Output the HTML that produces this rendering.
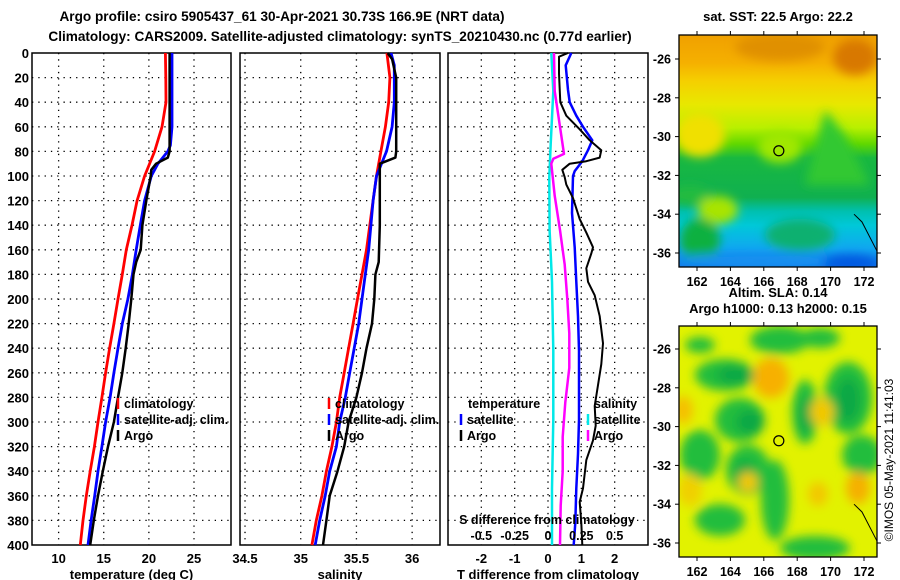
<!DOCTYPE html>
<html><head><meta charset="utf-8"><style>
html,body{margin:0;padding:0;background:#fff;}
svg{display:block;font-family:"Liberation Sans",Arial,sans-serif;font-weight:bold;}
</style></head><body>
<svg id="chart" width="900" height="580" viewBox="0 0 900 580" xmlns="http://www.w3.org/2000/svg">
<defs>
<filter id="blur6" x="-20%" y="-20%" width="140%" height="140%"><feGaussianBlur stdDeviation="5"/></filter>
<clipPath id="clipTop"><rect x="679" y="35" width="198" height="232"/></clipPath>
<clipPath id="clipBot"><rect x="679" y="326" width="198" height="231"/></clipPath>
<linearGradient id="sstGrad" x1="0" y1="0" x2="0" y2="1">
<stop offset="0" stop-color="#f0a000"/><stop offset="0.12" stop-color="#f5b000"/>
<stop offset="0.2" stop-color="#f5d000"/><stop offset="0.3" stop-color="#e8e800"/>
<stop offset="0.4" stop-color="#b8f000"/><stop offset="0.47" stop-color="#60d800"/>
<stop offset="0.53" stop-color="#18b840"/><stop offset="0.7" stop-color="#10b050"/>
<stop offset="0.76" stop-color="#00c0b0"/><stop offset="0.82" stop-color="#00c8d8"/>
<stop offset="0.92" stop-color="#10a8f0"/><stop offset="1" stop-color="#1070e8"/>
</linearGradient>
</defs>
<text x="282" y="21" font-size="13.6" text-anchor="middle">Argo profile: csiro 5905437_61 30-Apr-2021 30.73S 166.9E (NRT data)</text>
<text x="340" y="41" font-size="13.6" text-anchor="middle">Climatology: CARS2009. Satellite-adjusted climatology: synTS_20210430.nc (0.77d earlier)</text>
<g id="panels"></g>
<g id="maps"></g>
<text transform="translate(893,460) rotate(-90)" font-size="12" font-weight="normal" text-anchor="middle">©IMOS 05-May-2021 11:41:03</text>
</svg>
<script>
// ---- data ----
const tDepth = [0,20,40,60,80,100,120,140,160,180,200,220,240,260,280,300,320,340,360,380,400];
const tClim = [21.83,21.88,21.9,21.45,20.64,19.53,18.7,18.13,17.5,17.06,16.58,16.13,15.65,15.2,14.8,14.36,13.96,13.5,13.07,12.7,12.4];
const tSatDepth = [0,60,75,80,90,100,120,140,160,180,200,220,240,260,280,300,320,340,360,380,400];
const tSat = [22.56,22.56,22.38,22.1,21.0,20.27,19.53,19.05,18.6,18.17,17.68,17.06,16.58,16.13,15.7,15.2,14.8,14.36,14.0,13.6,13.25];
const tArgoDepth = [0,80,85,90,95,100,120,140,160,170,180,200,220,240,260,280,300,320,340,360,380,400];
const tArgo = [22.3,22.3,22.1,20.8,20.27,20.2,19.72,19.28,19.09,18.6,18.3,18.05,17.76,17.43,17.06,16.58,16.13,15.47,14.9,14.36,13.9,13.5];
const sDepth = [0,20,40,60,80,100,120,140,160,180,200,220,240,260,280,300,320,340,360,380,400];
const sClim = [35.773,35.8,35.79,35.76,35.72,35.68,35.65,35.62,35.59,35.55,35.51,35.47,35.43,35.39,35.35,35.32,35.28,35.23,35.19,35.14,35.1];
const sSatDepth = [0,10,40,60,80,100,120,140,160,180,200,220,240,260,280,300,320,340,360,380,400];
const sSat = [35.81,35.84,35.84,35.82,35.77,35.68,35.65,35.63,35.61,35.58,35.55,35.52,35.48,35.44,35.4,35.35,35.32,35.26,35.22,35.17,35.13];
const sArgoDepth = [0,5,20,80,85,90,100,140,170,180,200,220,240,260,280,300,320,340,360,380,400];
const sArgo = [35.78,35.82,35.857,35.857,35.85,35.71,35.71,35.71,35.7,35.67,35.66,35.64,35.59,35.55,35.5,35.43,35.39,35.33,35.26,35.23,35.2];
const dTSatDepth = [0,10,30,40,51,60,71,79,88,96,100,130,158,186,214,242,270,298,326,354,382,400];
const dTSat = [0.7,0.53,0.6,0.65,0.85,1.05,1.33,1.2,1.03,0.8,0.75,0.72,0.8,0.85,0.9,0.93,0.93,0.93,0.9,0.85,0.82,0.77];
const dTArgoDepth = [0,3,17,40,51,62,71,79,85,88,90,95,101,107,118,135,146,158,163,175,186,197,214,236,253,270,287,303,315,331,354,365,382,400];
const dTArgo = [0.6,0.33,0.33,0.37,0.55,0.95,1.25,1.6,1.55,1.15,0.65,0.43,0.5,0.55,0.75,0.95,1.15,1.35,1.3,1.15,1.2,1.4,1.55,1.65,1.6,1.5,1.4,1.43,1.35,1.15,1.05,0.95,1.0,1.03];
const dSArgoDepth = [0,31,60,82,86,90,116,144,172,200,228,256,284,312,340,368,400];
const dSArgo = [0.045,0.05,0.09,0.12,0.04,0.025,0.05,0.09,0.125,0.145,0.16,0.16,0.13,0.11,0.11,0.095,0.09];
const dSSatDepth = [0,31,74,101,144,186,242,298,354,400];
const dSSat = [0.025,0.04,0.02,0.01,0.012,0.03,0.04,0.04,0.03,0.03];
const depthTicks = [0,20,40,60,80,100,120,140,160,180,200,220,240,260,280,300,320,340,360,380,400];
const tTicks = [10,15,20,25];
const sTicks = [34.5,35,35.5,36];
const dTTicks = [-2,-1,0,1,2];
const dSTicks = [-0.5,-0.25,0,0.25,0.5];
const lonTicks = [162,164,166,168,170,172];
const latTicks = [-26,-28,-30,-32,-34,-36];

const NS='http://www.w3.org/2000/svg';
const svg=document.getElementById('chart');
const panels=document.getElementById('panels');
const maps=document.getElementById('maps');
function el(tag,attrs,parent){const e=document.createElementNS(NS,tag);for(const k in attrs)e.setAttribute(k,attrs[k]);(parent||svg).appendChild(e);return e;}
const TOP=53,BOT=545;
const yD=d=>TOP+(d/400)*(BOT-TOP);
function mkScale(x0,x1,v0,v1){return v=>x0+(v-v0)/(v1-v0)*(x1-x0);}
const xT=mkScale(32,231,7.05,29.1);
const xS=mkScale(240,440,34.455,36.25);
const xDT=mkScale(448,648,-3,3);
const xDS=v=>xDT(v*4);

function panel(name,x0,x1,xs,ticks,xlabel,showY){
  const g=el('g',{},panels);
  
  
  depthTicks.forEach(d=>{
    if(d>0&&d<400){const l=el('line',{x1:x0,x2:x1,y1:yD(d),y2:yD(d),stroke:'#000','stroke-width':1.3,'stroke-dasharray':'1.3,5'},g);
      }
    if(showY){const t=el('text',{x:29,y:yD(d)+5,'font-size':13,'text-anchor':'end'},g);t.textContent=d;
      }
  });
  ticks.forEach(v=>{
    const x=xs(v);
    if(x>x0+3&&x<x1-3){const l=el('line',{x1:x,x2:x,y1:TOP,y2:BOT,stroke:'#000','stroke-width':1.3,'stroke-dasharray':'1.3,5'},g);
      }
    const t=el('text',{x:x,y:563,'font-size':13,'text-anchor':'middle'},g);t.textContent=v;
    
  });
  const r=el('rect',{x:x0,y:TOP,width:x1-x0,height:BOT-TOP,fill:'none',stroke:'#000','stroke-width':1.5},g);
  
  const xl=el('text',{x:(x0+x1)/2,y:579,'font-size':13,'text-anchor':'middle'},g);xl.textContent=xlabel;
  
  return g;
}
function line(g,name,xs,vals,deps,color,w){
  const p=el('polyline',{points:vals.map((v,i)=>xs(v).toFixed(1)+','+yD(deps[i]).toFixed(1)).join(' '),fill:'none',stroke:color,'stroke-width':w,'stroke-linejoin':'round'},g);
  
}
function legend(g,x,y,color,label){
  const m=el('line',{x1:x,x2:x,y1:y-6,y2:y+5,stroke:color,'stroke-width':2.5},g);
  
  const t=el('text',{x:x+6,y:y+4,'font-size':12.5},g);t.textContent=label;
  
}
const g1=panel('temperature-panel',32,231,xT,tTicks,'temperature (deg C)',true);
line(g1,'temperature-climatology-line',xT,tClim,tDepth,'#f00',2.8);
line(g1,'temperature-satellite-line',xT,tSat,tSatDepth,'#00f',2.8);
line(g1,'temperature-argo-line',xT,tArgo,tArgoDepth,'#000',2.5);
legend(g1,118,404,'#f00','climatology');legend(g1,118,420,'#00f','satellite-adj. clim.');legend(g1,118,436,'#000','Argo');

const g2=panel('salinity-panel',240,440,xS,sTicks,'salinity',false);
line(g2,'salinity-climatology-line',xS,sClim,sDepth,'#f00',2.8);
line(g2,'salinity-satellite-line',xS,sSat,sSatDepth,'#00f',2.8);
line(g2,'salinity-argo-line',xS,sArgo,sArgoDepth,'#000',2.5);
legend(g2,329,404,'#f00','climatology');legend(g2,329,420,'#00f','satellite-adj. clim.');legend(g2,329,436,'#000','Argo');

const g3=panel('difference-panel',448,648,xDT,dTTicks,'T difference from climatology',false);
line(g3,'s-satellite-diff-line',xDS,dSSat,dSSatDepth,'#00e8e8',2.5);
line(g3,'s-argo-diff-line',xDS,dSArgo,dSArgoDepth,'#f0f',2.5);
line(g3,'t-satellite-diff-line',xDT,dTSat,dTSatDepth,'#00f',2.5);
line(g3,'t-argo-diff-line',xDT,dTArgo,dTArgoDepth,'#000',2);
const lt=el('text',{x:468,y:408,'font-size':12.5},g3);lt.textContent='temperature';

const ls=el('text',{x:594,y:408,'font-size':12.5},g3);ls.textContent='salinity';

legend(g3,461,420,'#00f','satellite');legend(g3,461,436,'#000','Argo');
legend(g3,588,420,'#00e8e8','satellite');legend(g3,588,436,'#f0f','Argo');
const st=el('text',{x:547,y:524,'font-size':12.5,'text-anchor':'middle'},g3);st.textContent='S difference from climatology';

dSTicks.forEach(v=>{const t=el('text',{x:xDS(v),y:540,'font-size':12.5,'text-anchor':'middle'},g3);t.textContent=v;
  });

// ---- maps ----
const lonX=mkScale(697,864,162,172);
function mapFrame(name,y0,y1,latY,title,titleY,clip,isSST){
  const g=el('g',{},maps);
  
  const art=el('g',{'clip-path':'url(#'+clip+')'},g);
  if(isSST){
    el('rect',{x:679,y:y0,width:198,height:y1-y0,fill:'url(#sstGrad)'},art);
    const b=el('g',{filter:'url(#blur6)'},art);
    el('ellipse',{cx:780,cy:y0+12,rx:45,ry:14,fill:'#e09000'},b);
    el('ellipse',{cx:855,cy:y0+22,rx:22,ry:18,fill:'#d87800'},b);
    el('ellipse',{cx:700,cy:y0+100,rx:25,ry:22,fill:'#f0e000'},b);
    el('ellipse',{cx:780,cy:y0+112,rx:22,ry:16,fill:'#a0e800'},b);
    el('polygon',{points:`805,${y0+150} 825,${y0+75} 845,${y0+100} 870,${y0+150}`,fill:'#30c830'},b);
    el('ellipse',{cx:690,cy:y0+160,rx:20,ry:10,fill:'#20bb40'},b);
    el('ellipse',{cx:718,cy:y0+175,rx:20,ry:14,fill:'#a8e400'},b);
    el('ellipse',{cx:800,cy:y0+200,rx:35,ry:16,fill:'#10b070'},b);
    el('ellipse',{cx:700,cy:y0+205,rx:20,ry:22,fill:'#10b040'},b);
    el('ellipse',{cx:760,cy:y0+226,rx:90,ry:8,fill:'#1590f0'},b);
    el('ellipse',{cx:850,cy:y0+228,rx:28,ry:8,fill:'#0058e0'},b);
  } else {
    el('rect',{x:679,y:y0,width:198,height:y1-y0,fill:'#e2f200'},art);
    const b=el('g',{filter:'url(#blur6)'},art);
    const green=[[725,375,30,16],[740,420,25,22],[700,455,20,25],[748,470,22,25],[775,500,14,40],[805,412,13,32],[848,398,24,36],[862,455,20,20],[720,520,25,16],[815,548,35,12],[780,340,30,14],[820,338,20,10],[700,345,15,8]];
    green.forEach(a=>el('ellipse',{cx:a[0],cy:a[1],rx:a[2],ry:a[3],fill:'#22bd3c'},b));
    const dark=[[735,375,18,9],[750,422,14,12],[848,400,12,22],[805,415,6,18],[745,475,10,14]];
    dark.forEach(a=>el('ellipse',{cx:a[0],cy:a[1],rx:a[2],ry:a[3],fill:'#10a845'},b));
    const orange=[[771,378,18,20,'#f7b000'],[683,410,10,14,'#f5c000'],[858,488,12,16,'#f5b000'],[748,482,10,10,'#f2c800'],[818,494,10,12,'#f2c800'],[690,490,12,16,'#f0d000'],[822,412,12,14,'#f2c800']];
    orange.forEach(a=>el('ellipse',{cx:a[0],cy:a[1],rx:a[2],ry:a[3],fill:a[4]},b));
  }
  const cy=latY(-30.73), cx=lonX(166.9);
  const c=el('circle',{cx:cx,cy:cy,r:5,fill:'none',stroke:'#000','stroke-width':1.2},g);
  
  const coast=el('polyline',{points:`854,${latY(-34)} 862,${latY(-34.4)} 877,${latY(-35.9)}`,fill:'none',stroke:'#000','stroke-width':1},g);
  
  const fr=el('rect',{x:679,y:y0,width:198,height:y1-y0,fill:'none',stroke:'#000','stroke-width':1.3},g);
  
  lonTicks.forEach(v=>{const x=lonX(v);
    el('line',{x1:x,x2:x,y1:y0-4,y2:y0,stroke:'#000'},g);el('line',{x1:x,x2:x,y1:y1,y2:y1+4,stroke:'#000'},g);
    const t=el('text',{x:x,y:y1+19,'font-size':12.5,'text-anchor':'middle'},g);t.textContent=v;
    });
  latTicks.forEach(v=>{const y=latY(v);
    el('line',{x1:675,x2:679,y1:y,y2:y,stroke:'#000'},g);el('line',{x1:877,x2:881,y1:y,y2:y,stroke:'#000'},g);
    const t=el('text',{x:671,y:y+4.5,'font-size':12.5,'text-anchor':'end'},g);t.textContent=v;
    });
  title.forEach((s,i)=>{const t=el('text',{x:778,y:titleY[i],'font-size':13,'text-anchor':'middle'},g);t.textContent=s;
    });
}
const latTopY=mkScale(59,253,-26,-36), latBotY=mkScale(349,543,-26,-36);
mapFrame('sst-map',35,267,latTopY,['sat. SST: 22.5 Argo: 22.2'],[21],'clipTop',true);
mapFrame('sla-map',326,557,latBotY,['Altim. SLA: 0.14','Argo h1000: 0.13 h2000: 0.15'],[297,313],'clipBot',false);
</script>
</body></html>
